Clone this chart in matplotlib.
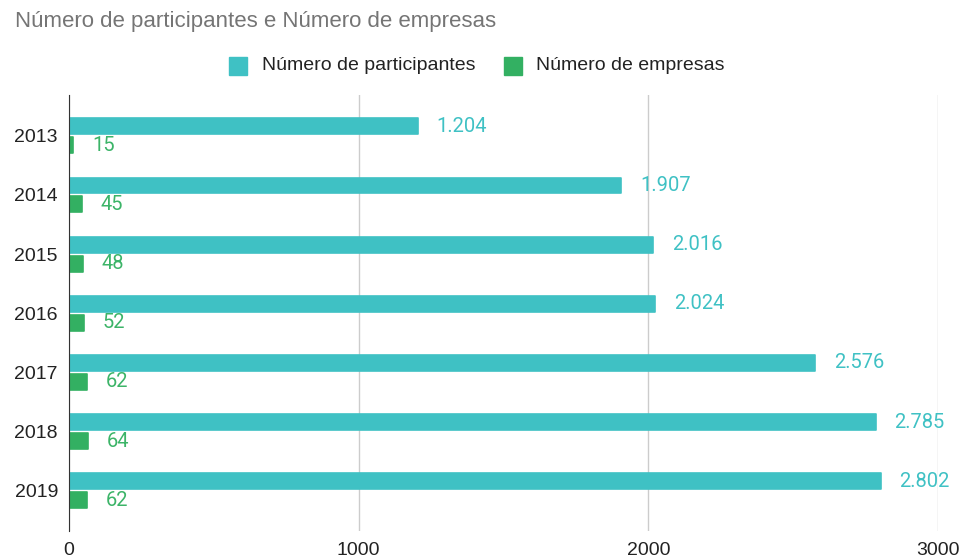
import numpy as np
import matplotlib.pyplot as plt
from matplotlib.patches import Rectangle

anos = ['2013', '2014', '2015', '2016', '2017', '2018', '2019']
participantes = [1204, 1907, 2016, 2024, 2576, 2785, 2802]
empresas = [15, 45, 48, 52, 62, 64, 62]

cor_part = '#3fc1c4'
cor_emp = '#33b062'
cor_lbl_emp = '#3cb468'

fig = plt.figure(figsize=(9.6, 5.59), dpi=100)
ax = fig.add_axes([69/960, 1-531/559, (938-69)/960, (531-95)/559])

y = np.arange(len(anos))
h = 0.27
ax.barh(y - 0.16, participantes, height=h, color=cor_part, edgecolor=cor_part,
        linewidth=1.2, joinstyle='round', zorder=3)
ax.barh(y + 0.16, empresas, height=h, color=cor_emp, edgecolor=cor_emp,
        linewidth=1.2, joinstyle='round', zorder=3)

def fmt(v):
    return '{:,}'.format(v).replace(',', '.')

for i in range(len(anos)):
    ax.annotate(fmt(participantes[i]), (participantes[i], y[i] - 0.16), xytext=(13.5, 0),
                textcoords='offset points', va='center', ha='left',
                color=cor_part, fontsize=14.5, family='Roboto')
    ax.annotate(fmt(empresas[i]), (empresas[i], y[i] + 0.16), xytext=(13.5, 0),
                textcoords='offset points', va='center', ha='left',
                color=cor_lbl_emp, fontsize=14.5, family='Roboto')

ax.set_xlim(0, 3000)
ax.set_ylim(6.68, -0.69)
ax.set_xticks([0, 1000, 2000, 3000])
ax.set_yticks(y)
ax.set_yticklabels(anos)
ax.tick_params(length=0, labelsize=14, labelcolor='#222222')
ax.tick_params(axis='y', pad=8)
ax.tick_params(axis='x', pad=8)
for lbl in ax.get_xticklabels() + ax.get_yticklabels():
    lbl.set_family('Liberation Sans')
ax.grid(axis='x', color='#cccccc', linewidth=1, zorder=0)
for s in ['top', 'right', 'bottom']:
    ax.spines[s].set_visible(False)
ax.spines['left'].set_color('#333333')
ax.spines['left'].set_zorder(4)

fig.text(15/960, 1-22/559, 'Número de participantes e Número de empresas',
         color='#757575', fontsize=16, family='Liberation Sans', va='center', ha='left')

# legenda
fig.patches.append(Rectangle((229/960, 1-75/559), 18/960, 18/559, transform=fig.transFigure,
                             color=cor_part))
fig.text(262/960, 1-66/559, 'Número de participantes', fontsize=14, family='Liberation Sans',
         color='#222222', va='center', ha='left')
fig.patches.append(Rectangle((504/960, 1-75/559), 18/960, 18/559, transform=fig.transFigure,
                             color=cor_emp))
fig.text(536/960, 1-66/559, 'Número de empresas', fontsize=14, family='Liberation Sans',
         color='#222222', va='center', ha='left')

fig.savefig('out.png', dpi=100)
